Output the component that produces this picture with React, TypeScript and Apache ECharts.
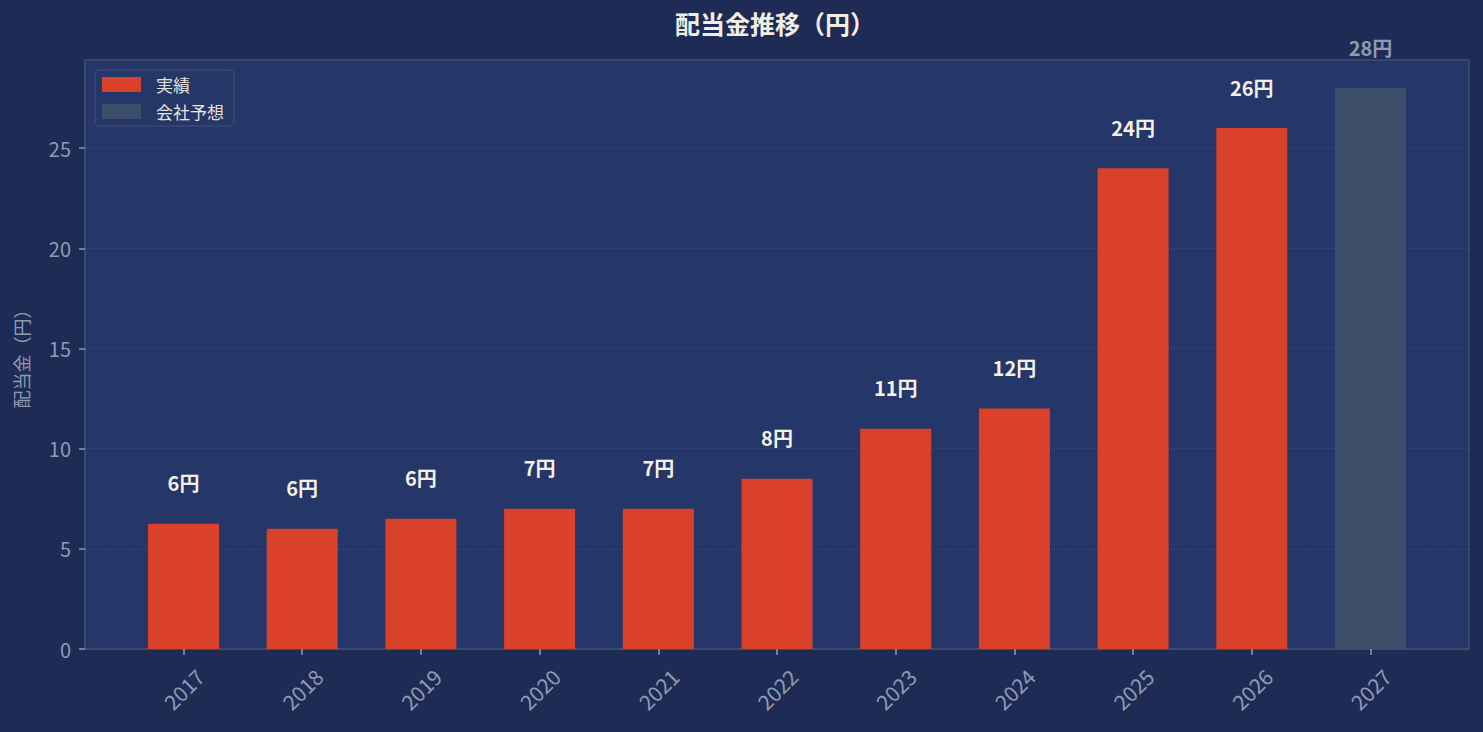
import React, { useEffect, useRef } from 'react';
import * as echarts from 'echarts';

// 配当金データ
const years = ['2017', '2018', '2019', '2020', '2021', '2022', '2023', '2024', '2025', '2026', '2027'];
const actualValues = [6.25, 6.0, 6.5, 7.0, 7.0, 8.5, 11.0, 12.0, 24.0, 26.0];
const actualLabels = ['6円', '6円', '6円', '7円', '7円', '8円', '11円', '12円', '24円', '26円'];
const forecastValues = [28.0];
const forecastLabels = ['28円'];
const yTicks = [0, 5, 10, 15, 20, 25];

const FONT = '"Noto Sans CJK JP", "Noto Sans", sans-serif';

const App: React.FC = () => {
    const chartRef = useRef<HTMLDivElement | null>(null);

    useEffect(() => {
        document.body.style.margin = '0';
        if (!chartRef.current) return;
        const chart = echarts.init(chartRef.current, undefined, { renderer: 'svg' });

        const xIdx = years.map((_, i) => i);
        const nActual = actualValues.length;

        const option = {
            animation: false,
            backgroundColor: '#1e2b54',
            textStyle: { fontFamily: FONT },
            title: {
                text: '配当金推移（円）',
                left: 770,
                textAlign: 'center',
                top: 5,
                textStyle: { color: '#f2eee4', fontSize: 25, fontWeight: 'bold', fontFamily: FONT },
            },
            legend: {
                orient: 'vertical',
                left: 95,
                top: 70,
                icon: 'rect',
                itemWidth: 39,
                itemHeight: 15,
                itemGap: 10,
                padding: [6, 10, 6, 7],
                borderColor: '#3a4a70',
                borderWidth: 1.5,
                borderRadius: 4,
                backgroundColor: '#253668',
                selectedMode: false,
                textStyle: { color: '#e8e4dc', fontSize: 17, fontFamily: FONT, padding: [0, 0, 0, 10] },
                data: ['実績', '会社予想'],
            },
            grid: {
                left: 85,
                right: 14,
                top: 60,
                bottom: 83,
                show: true,
                backgroundColor: '#253668',
                borderColor: '#3d4d72',
                borderWidth: 1.5,
            },
            xAxis: {
                type: 'value',
                min: -0.83,
                max: 10.83,
                axisLine: { show: true, onZero: false, lineStyle: { color: '#3d4d72', width: 1.5 } },
                axisTick: {
                    show: true,
                    length: 6,
                    customValues: xIdx,
                    lineStyle: { color: '#8e9bb5', width: 1.5 },
                },
                axisLabel: {
                    customValues: xIdx,
                    rotate: 45,
                    align: 'center',
                    verticalAlign: 'middle',
                    margin: 40,
                    color: '#8e9bb5',
                    fontSize: 21,
                    fontFamily: FONT,
                    formatter: (v: number) => years[Math.round(v)] ?? '',
                },
                splitLine: { show: false },
            },
            yAxis: {
                type: 'value',
                min: 0,
                max: 29.4,
                name: '配当金（円）',
                nameLocation: 'middle',
                nameGap: 55,
                nameTextStyle: { color: '#8e9bb5', fontSize: 18, fontFamily: FONT },
                axisLine: { show: true, onZero: false, lineStyle: { color: '#3d4d72', width: 1.5 } },
                axisTick: {
                    show: true,
                    length: 6,
                    customValues: yTicks,
                    lineStyle: { color: '#8e9bb5', width: 1.5 },
                },
                axisLabel: {
                    customValues: yTicks,
                    color: '#8e9bb5',
                    fontSize: 20,
                    margin: 14,
                    fontFamily: FONT,
                },
                splitLine: {
                    show: true,
                    lineStyle: { color: 'rgba(255,255,255,0.07)', type: 'dashed', width: 1 },
                },
            },
            series: [
                {
                    name: '実績',
                    type: 'bar',
                    stack: 'all',
                    barWidth: 71,
                    itemStyle: { color: '#d9412b' },
                    data: actualValues.map((v, i) => [i, v]),
                    label: {
                        show: true,
                        position: 'top',
                        distance: 31,
                        color: '#f5f0e6',
                        fontSize: 20,
                        fontWeight: 'bold',
                        fontFamily: FONT,
                        formatter: (p: any) => actualLabels[p.dataIndex],
                    },
                },
                {
                    name: '会社予想',
                    type: 'bar',
                    stack: 'all',
                    barWidth: 71,
                    itemStyle: { color: '#3d4e6b' },
                    data: forecastValues.map((v, i) => [nActual + i, v]),
                    label: {
                        show: true,
                        position: 'top',
                        distance: 31,
                        color: '#8e9bb5',
                        fontSize: 20,
                        fontWeight: 'bold',
                        fontFamily: FONT,
                        formatter: (p: any) => forecastLabels[p.dataIndex],
                    },
                },
            ],
        };

        chart.setOption(option);

        return () => {
            chart.dispose();
        };
    }, []);

    return <div ref={chartRef} style={{ width: '1483px', height: '732px' }} />;
};

export default App;
